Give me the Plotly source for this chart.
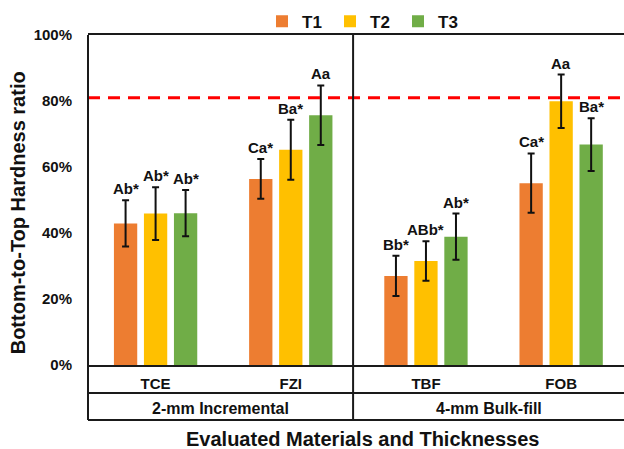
import plotly.graph_objects as go

# ---------------- data ----------------
categories = ["TCE", "FZI", "TBF", "FOB"]
groups = ["2-mm Incremental", "4-mm Bulk-fill"]
series_names = ["T1", "T2", "T3"]
t1_values = [42.9, 56.4, 27.0, 55.1]
t1_errors = [7.0, 6.0, 6.1, 9.0]
t2_values = [45.9, 65.2, 31.5, 79.9]
t2_errors = [8.0, 9.1, 6.0, 8.1]
t3_values = [46.0, 75.7, 38.9, 66.8]
t3_errors = [7.0, 9.0, 7.0, 8.0]
t1_labels = ["Ab*", "Ca*", "Bb*", "Ca*"]
t2_labels = ["Ab*", "Ba*", "ABb*", "Aa"]
t3_labels = ["Ab*", "Aa", "Ab*", "Ba*"]
threshold = 81
y_ticks = [0, 20, 40, 60, 80, 100]
y_tick_labels = ["0%", "20%", "40%", "60%", "80%", "100%"]

# ---------------- style ----------------
colors = ["#ED7D31", "#FFC000", "#70AD47"]
FONT = "Liberation Sans, Arial, sans-serif"
INK = "#111111"
LINE = "#1a1a1a"
W, H = 624, 449
M_L, M_R, M_T, M_B = 88, 0, 35, 84
plot_h = H - M_T - M_B
plot_w = W - M_L - M_R
bargap, bargroupgap = 0.334, 0.2235
x_range = [-0.5, 3.465]
row1_px, row2_px = 28, 55          # category row / group row bottoms below axis
divider_x = 1.461

def py(px_below):
    return -px_below / plot_h

values = [t1_values, t2_values, t3_values]
errors = [t1_errors, t2_errors, t3_errors]
labels = [t1_labels, t2_labels, t3_labels]

fig = go.Figure()
for name, v, e, c in zip(series_names, values, errors, colors):
    fig.add_trace(go.Bar(
        x=categories, y=v, name=name, marker_color=c, marker_line_width=0,
        error_y=dict(type="data", array=e, color=INK, thickness=2, width=3.5),
    ))

annotations = []
slot = (1 - bargap) / len(series_names)
for j, (v, e, lab) in enumerate(zip(values, errors, labels)):
    off = (j - (len(series_names) - 1) / 2) * slot
    for i, (vv, ee, tt) in enumerate(zip(v, e, lab)):
        annotations.append(dict(
            x=i + off, y=vv + ee, xref="x", yref="y", text=tt, showarrow=False,
            yanchor="bottom", yshift=1,
            font=dict(family=FONT, size=15, color=INK, weight="bold"),
        ))

# group labels
bounds = [x_range[0], divider_x, x_range[1]]
for g, (a, b) in enumerate(zip(bounds[:-1], bounds[1:])):
    annotations.append(dict(
        x=(a + b) / 2, y=py(43), xref="x", yref="paper", text=groups[g],
        showarrow=False, yanchor="middle",
        font=dict(family=FONT, size=16, color=INK, weight="bold"),
    ))

# axis titles
annotations.append(dict(
    x=(362.5 - M_L) / plot_w, y=py(439 - (H - M_B)), xref="paper", yref="paper",
    text="Evaluated Materials and Thicknesses", showarrow=False, yanchor="middle",
    font=dict(family=FONT, size=20, color=INK, weight="bold"),
))
annotations.append(dict(
    x=(18.3 - M_L) / plot_w, y=(H - M_B - 213) / plot_h, xref="paper", yref="paper",
    text="Bottom-to-Top Hardness ratio", showarrow=False, textangle=-90,
    xanchor="center", yanchor="middle",
    font=dict(family=FONT, size=20, color=INK, weight="bold"),
))

shapes = [
    dict(type="line", xref="paper", yref="y", x0=0, x1=1, y0=threshold, y1=threshold,
         line=dict(color="#FF0000", width=3, dash="12px,8px")),
    dict(type="line", xref="paper", yref="paper", x0=0, x1=0, y0=py(row2_px), y1=1,
         line=dict(color=LINE, width=2)),
    dict(type="line", xref="x", yref="paper", x0=divider_x, x1=divider_x, y0=py(row2_px), y1=1,
         line=dict(color=LINE, width=2)),
    dict(type="line", xref="paper", yref="paper", x0=0, x1=1, y0=py(row1_px), y1=py(row1_px),
         line=dict(color=LINE, width=2)),
    dict(type="line", xref="paper", yref="paper", x0=0, x1=1, y0=py(row2_px), y1=py(row2_px),
         line=dict(color=LINE, width=2)),
]

fig.update_layout(
    width=W, height=H,
    margin=dict(l=M_L, r=M_R, t=M_T, b=M_B, autoexpand=False),
    paper_bgcolor="white", plot_bgcolor="white",
    barmode="group", bargap=bargap, bargroupgap=bargroupgap,
    font=dict(family=FONT, color=INK),
    showlegend=True,
    legend=dict(
        orientation="h", xref="container", yref="container",
        x=262 / W, y=1 - 21.7 / H, xanchor="left", yanchor="middle",
        font=dict(family=FONT, size=17, color=INK, weight="bold"),
        entrywidth=23, entrywidthmode="pixels", bgcolor="rgba(0,0,0,0)",
    ),
    annotations=annotations,
    shapes=shapes,
)
fig.update_xaxes(
    type="category", range=x_range, showgrid=False, zeroline=False, automargin=False,
    showline=True, linecolor=LINE, linewidth=2, mirror=True,
    ticks="", ticklabelstandoff=4,
    tickfont=dict(family=FONT, size=15, color=INK, weight="bold"),
)
fig.update_yaxes(
    range=[0, 100], tickmode="array", tickvals=y_ticks, ticktext=y_tick_labels,
    showgrid=False, zeroline=False, automargin=False,
    showline=False, ticks="outside", ticklen=12, tickcolor="rgba(0,0,0,0)",
    tickfont=dict(family=FONT, size=15, color=INK, weight="bold"),
)

fig.write_html(
    "out.html",
    config={"displayModeBar": False},
    post_script="document.body.style.margin='0';document.body.style.overflow='hidden';",
)
